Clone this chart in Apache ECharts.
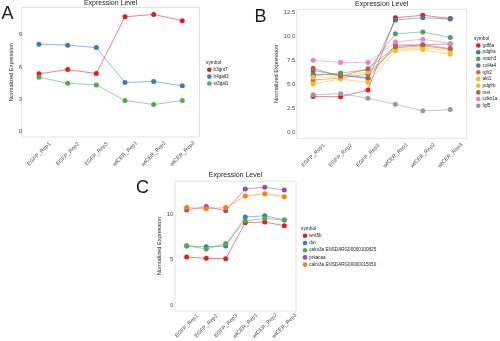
<!DOCTYPE html>
<html>
<head>
<meta charset="utf-8">
<script src="https://cdn.jsdelivr.net/npm/echarts@6/dist/echarts.min.js"></script>
<style>
html,body{margin:0;padding:0;background:#fff;}
#chart{width:500px;height:341px;}
</style>
</head>
<body>
<div id="chart"></div>
<script>
// ---------- DATA ----------
const categories = ['EGFP_Rep1','EGFP_Rep2','EGFP_Rep3','wtCER_Rep1','wtCER_Rep2','wtCER_Rep3'];

// Panel A
const genesA = ['b3gnt7','b4galt3','st3gal1'];
const b3gnt7  = [5.35, 5.75, 5.38, 10.64, 10.86, 10.27];
const b4galt3 = [8.10, 8.01, 7.79, 4.55, 4.64, 4.24];
const st3gal1 = [5.04, 4.48, 4.33, 2.88, 2.51, 2.88];
const ticksA = [0, 3, 6, 9];

// Panel B
const genesB = ['gdf6a','pdgfra','notch3','col4a4','tgfr2','akt1','pdgfrb','met','cdkn1a','fgf5'];
const gdf6a  = [3.74, 3.72, 4.42, 11.93, 12.18, 11.84];
const pdgfra = [6.45, 5.95, 5.62, 11.70, 11.92, 11.78];
const notch3 = [5.90, 6.19, 6.50, 10.25, 10.45, 9.88];
const col4a4 = [6.08, 5.98, 5.70, 9.10, 9.10, 9.20];
const tgfr2  = [5.46, 5.67, 6.08, 8.80, 9.00, 8.65];
const akt1   = [5.05, 5.56, 5.20, 8.50, 8.62, 8.12];
const pdgfrb = [5.75, 5.85, 6.32, 8.65, 8.80, 8.50];
const met    = [6.67, 5.84, 6.63, 8.92, 9.12, 8.72];
const cdkn1a = [7.50, 7.28, 7.28, 9.40, 9.70, 9.25];
const fgf5   = [3.92, 4.04, 3.56, 2.94, 2.25, 2.38];
const ticksB = [0, 2.5, 5, 7.5, 10, 12.5];

// Panel C
const genesC = ['wnt5b','dut','calm3a ENSDARG00000100825','prkacaa','calm3a ENSDARG00000015050'];
const wnt5b   = [5.29, 5.15, 5.11, 9.08, 9.15, 8.75];
const dut     = [6.50, 6.43, 6.50, 9.70, 9.85, 9.37];
const calm3aA = [6.54, 6.18, 6.80, 9.26, 9.56, 9.37];
const prkacaa = [10.48, 10.85, 10.40, 12.80, 12.98, 12.68];
const calm3aB = [10.74, 10.62, 10.74, 12.02, 12.28, 11.95];
const ticksC = [0, 5, 10];

// ---------- STYLE ----------
const colorsA = ['#E41A1C','#377EB8','#4DAF4A'];
const colorsB = ['#E41A1C','#4A73A7','#48A462','#7F6E85','#D16948','#FFB817','#E1C72F','#B85F4A','#ED84BB','#999999'];
const colorsC = ['#E41A1C','#377EB8','#4DAF4A','#984EA3','#FF7F00'];
const FONT = 'Liberation Sans, Arial, sans-serif';

const chart = echarts.init(document.getElementById('chart'), null, {renderer:'canvas'});

// frames (panel borders) and data grids inset by ggplot's 0.6-unit discrete expansion
function frame(l, t, w, h){
  return {left:l, top:t, width:w, height:h, show:true, borderColor:'#e3e3e3', borderWidth:1,
          backgroundColor:'#fff', containLabel:false, outerBoundsMode:'none'};
}
function dataGrid(l, t, w, h){
  const u = w / 6.2;
  return {left:l + 0.1*u, top:t, width:6*u, height:h, show:false, containLabel:false, outerBoundsMode:'none'};
}
const FA = [21.8, 7.5, 177.7, 129.5];
const FB = [296.7, 9.3, 170, 129.0];
const FC = [175, 181.2, 121, 129.8];

const grids = [frame(...FA), frame(...FB), frame(...FC), dataGrid(...FA), dataGrid(...FB), dataGrid(...FC)];

function xAx(gi, margin){
  return {type:'category', gridIndex:gi, data:categories, boundaryGap:true,
    axisLine:{show:false}, axisTick:{show:false}, splitLine:{show:false},
    axisLabel:{rotate:45, interval:0, fontSize:5.4, color:'#4d4d4d', margin:margin,
      align:'center', verticalAlign:'middle', fontFamily:FONT, hideOverlap:false}};
}
function yAx(gi, min, max, ticks, fmt, gap, margin){
  return {type:'value', gridIndex:gi, min:min, max:max,
    axisLine:{show:false}, axisTick:{show:false}, splitLine:{show:false},
    name:'Normalized Expression', nameLocation:'middle', nameGap:gap, nameRotate:90,
    nameTextStyle:{fontSize:5.7, color:'#1a1a1a', fontFamily:FONT},
    axisLabel:{customValues:ticks, formatter:fmt, fontSize:6.1, color:'#4d4d4d', margin:margin, fontFamily:FONT,
      showMinLabel:true, showMaxLabel:true}};
}

const xAxes = [xAx(3, 17), xAx(4, 17), xAx(5, 15)];
const yAxes = [
  yAx(3, -0.5, 11.5, ticksA, v => String(v), 9.5, 2.5),
  yAx(4, -0.6, 12.8, ticksB, v => v.toFixed(1), 14, 4),
  yAx(5, -0.65, 13.65, ticksC, v => String(v), 12, 3.5)
];

function mk(name, data, color, idx){
  return {type:'line', name:name, data:data, xAxisIndex:idx, yAxisIndex:idx,
    symbol:'circle', symbolSize:5, showSymbol:true, clip:false,
    itemStyle:{color:color, opacity:1},
    lineStyle:{color:color, width:1, opacity:0.55},
    emphasis:{disabled:true}, animation:false};
}
const seriesA = [b3gnt7, b4galt3, st3gal1].map((d,i)=>mk(genesA[i], d, colorsA[i], 0));
const seriesB = [gdf6a,pdgfra,notch3,col4a4,tgfr2,akt1,pdgfrb,met,cdkn1a,fgf5].map((d,i)=>mk(genesB[i], d, colorsB[i], 1));
const seriesC = [wnt5b,dut,calm3aA,prkacaa,calm3aB].map((d,i)=>mk(genesC[i], d, colorsC[i], 2));

function leg(names, l, t, gap){
  return {data:names, left:l, top:t, orient:'vertical', icon:'circle', itemWidth:4.6, itemHeight:4.6,
    itemGap:gap, padding:0, selectedMode:false, width:200,
    textStyle:{fontSize:4.6, lineHeight:4.6, color:'#1a1a1a', fontFamily:FONT, overflow:'none',
      padding:[0,0,0,-3]}};
}

function ttl(text, l, t, size, align){
  return {text:text, left:l, top:t, padding:0, textAlign:align||'left',
    textStyle:{fontSize:size, fontWeight:'normal', color:'#1a1a1a', fontFamily:FONT}};
}

chart.setOption({
  animation:false,
  backgroundColor:'#fff',
  title:[
    ttl('Expression Level', 110.6, -0.5, 7, 'center'),
    ttl('Expression Level', 381.7, 0.5, 7, 'center'),
    ttl('Expression Level', 235.5, 172, 7, 'center'),
    ttl('A', 1.5, 5.5, 18),
    ttl('B', 254.5, 8, 18),
    ttl('C', 136, 179, 18),
    ttl('symbol', 206, 60, 4.8),
    ttl('symbol', 474, 36.5, 4.8),
    ttl('symbol', 301, 226.5, 4.8)
  ],
  legend:[
    leg(genesA, 207, 67.2, 1.9),
    leg(genesB, 476, 43, 1.7),
    leg(genesC, 302.7, 233.3, 2.2)
  ],
  grid:grids,
  xAxis:xAxes,
  yAxis:yAxes,
  series:[...seriesA, ...seriesB, ...seriesC]
});
</script>
</body>
</html>
